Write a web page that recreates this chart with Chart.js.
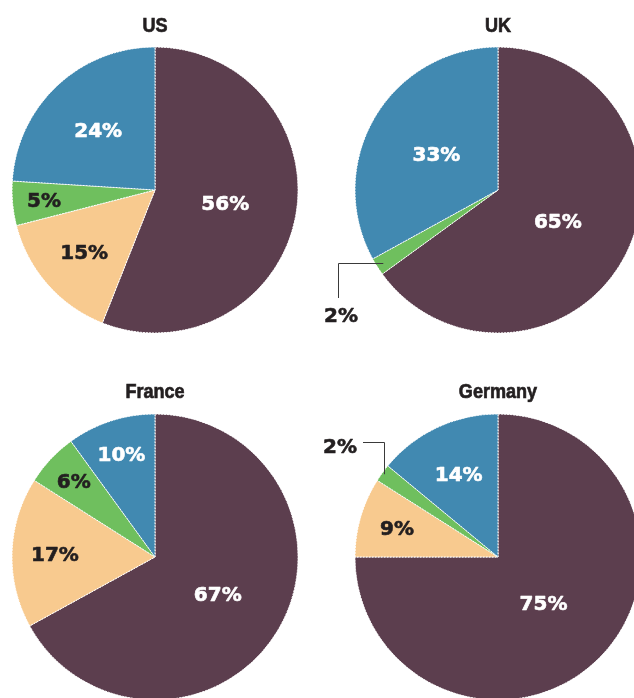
<!DOCTYPE html>
<html>
<head>
<meta charset="utf-8">
<script src="https://cdn.jsdelivr.net/npm/chart.js@4.4.0/dist/chart.umd.min.js"></script>
<style>
  html, body { margin: 0; padding: 0; background: #fff; }
  body { width: 634px; height: 698px; overflow: hidden; position: relative; }
  canvas { position: absolute; }
  .ttl {
    position: absolute; transform: translate(-50%, -50%) scaleX(0.86);
    font: bold 21px "Liberation Sans", Arial, sans-serif;
    -webkit-text-stroke: 0.7px #231f20;
    line-height: 1; color: #231f20; white-space: nowrap;
  }
</style>
</head>
<body>
<script>
// share of each segment, clockwise from 12 o'clock
const segments = ['Segment 1', 'Segment 2', 'Segment 3', 'Segment 4'];
const countries = ['US', 'UK', 'France', 'Germany'];
const usValues = [56, 15, 5, 24];
const ukValues = [65, 0, 2, 33];
const franceValues = [67, 17, 6, 10];
const germanyValues = [75, 9, 2, 14];

const sliceColors = ['#5c3e4e', '#f8ca8f', '#6fbf5e', '#4189b1'];
const labelColors = ['#ffffff', '#231f20', '#231f20', '#ffffff'];
const R = 143;

// placement of each pie and of its labels (fraction of radius)
const pies = [
  { name: countries[0], data: usValues, cx: 155, cy: 190, ty: 23.5, lr: [0.50, 0.66, 0.78, 0.58] },
  { name: countries[1], data: ukValues, cx: 498, cy: 190, ty: 23.5, lr: [0.47, 0.6, 0.6, 0.50],
    callout: { index: 2, anchor: 0.95, elbow: 'h', dx: -157, dy: 125, lineX: -160, lineEnd: 108 } },
  { name: countries[2], data: franceValues, cx: 155, cy: 557, ty: 389.5, lr: [0.51, 0.70, 0.78, 0.76] },
  { name: countries[3], data: germanyValues, cx: 498, cy: 557, ty: 389.5, lr: [0.45, 0.735, 0.6, 0.645],
    callout: { index: 2, anchor: 0.985, elbow: 'v', dx: -158, dy: -111, lineY: -115, lineEnd: -135 } }
];

const pctLabels = {
  id: 'pctLabels',
  afterDatasetsDraw(chart, args, opts) {
    const ctx = chart.ctx;
    const meta = chart.getDatasetMeta(0);
    const vals = chart.data.datasets[0].data;
    ctx.save();
    ctx.font = 'bold 20px "DejaVu Sans"';
    ctx.textAlign = 'center';
    ctx.textBaseline = 'alphabetic';
    ctx.lineJoin = 'round';
    function put(txt, x, y, col) {
      ctx.fillStyle = col;
      ctx.strokeStyle = col;
      ctx.lineWidth = 0.6;
      ctx.fillText(txt, x, y);
      ctx.strokeText(txt, x, y);
    }
    meta.data.forEach(function(arc, i) {
      if (!vals[i]) return;
      const p = arc.getProps(['x', 'y', 'startAngle', 'endAngle', 'outerRadius'], true);
      const mid = (p.startAngle + p.endAngle) / 2;
      const txt = vals[i] + '%';
      const co = opts.callout;
      if (co && co.index === i) {
        const ax = p.x + Math.cos(mid) * p.outerRadius * co.anchor;
        const ay = p.y + Math.sin(mid) * p.outerRadius * co.anchor;
        ctx.strokeStyle = '#3a3a3a';
        ctx.lineWidth = 1;
        ctx.beginPath();
        if (co.elbow === 'h') {
          const lx = Math.round(p.x + co.lineX) + 0.5;
          ctx.moveTo(ax, Math.round(ay) + 0.5);
          ctx.lineTo(lx, Math.round(ay) + 0.5);
          ctx.lineTo(lx, p.y + co.lineEnd);
        } else {
          const ly = Math.round(p.y + co.lineY) + 0.5;
          ctx.moveTo(Math.round(ax) + 0.5, ay);
          ctx.lineTo(Math.round(ax) + 0.5, ly);
          ctx.lineTo(p.x + co.lineEnd, ly);
        }
        ctx.stroke();
        put(txt, p.x + co.dx, p.y + co.dy + 7, '#231f20');
        return;
      }
      const r = p.outerRadius * opts.lr[i];
      put(txt, p.x + Math.cos(mid) * r, p.y + Math.sin(mid) * r + 7, labelColors[i]);
    });
    ctx.restore();
  }
};

pies.forEach(function(pie) {
  const size = 400;
  const canvas = document.createElement('canvas');
  canvas.width = size; canvas.height = size;
  canvas.style.width = size + 'px'; canvas.style.height = size + 'px';
  canvas.style.left = (pie.cx - size / 2) + 'px';
  canvas.style.top = (pie.cy - size / 2) + 'px';
  document.body.appendChild(canvas);

  const t = document.createElement('div');
  t.className = 'ttl';
  t.textContent = pie.name;
  t.style.left = pie.cx + 'px';
  t.style.top = pie.ty + 'px';
  document.body.appendChild(t);

  new Chart(canvas.getContext('2d'), {
    type: 'pie',
    data: {
      labels: segments,
      datasets: [{
        data: pie.data,
        backgroundColor: sliceColors,
        borderColor: '#ffffff',
        borderWidth: 1,
        borderDash: [2, 1]
      }]
    },
    options: {
      responsive: false,
      animation: false,
      radius: R,
      layout: { padding: 0 },
      plugins: {
        legend: { display: false },
        tooltip: { enabled: false },
        pctLabels: { lr: pie.lr, callout: pie.callout }
      }
    },
    plugins: [pctLabels]
  });
});
</script>
</body>
</html>
